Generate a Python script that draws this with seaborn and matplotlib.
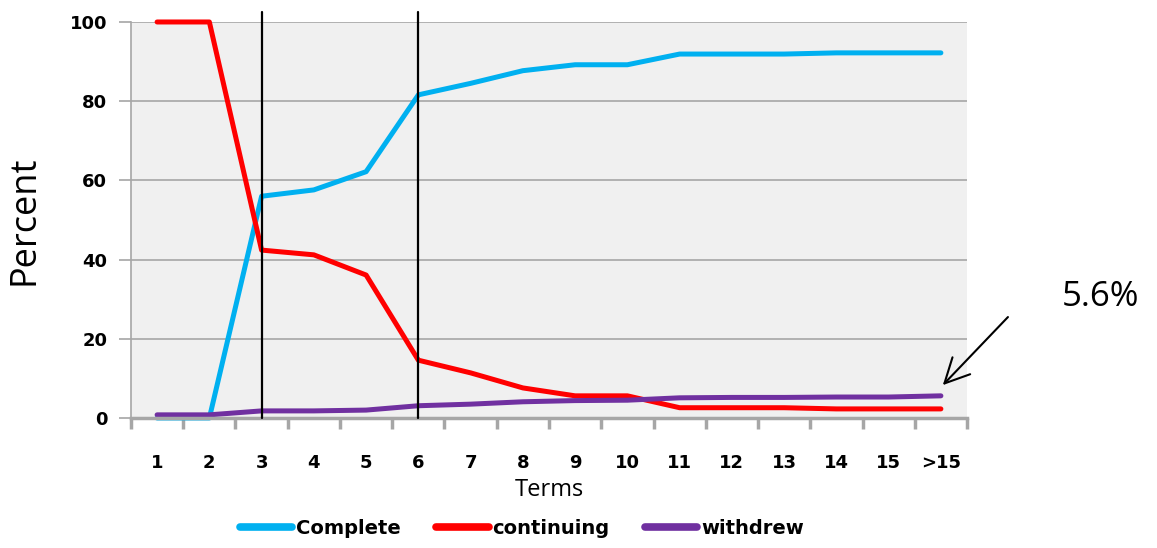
import matplotlib
matplotlib.use("Agg")
import matplotlib.pyplot as plt
import seaborn as sns
import pandas as pd

terms = ["1", "2", "3", "4", "5", "6", "7", "8", "9", "10", "11", "12", "13", "14", "15", ">15"]
complete = [0, 0, 56, 57.6, 62.2, 81.6, 84.5, 87.7, 89.2, 89.2, 91.9, 91.9, 91.9, 92.2, 92.2, 92.2]
continuing = [100, 100, 42.4, 41.2, 36.1, 14.6, 11.4, 7.6, 5.6, 5.6, 2.6, 2.6, 2.6, 2.3, 2.3, 2.3]
withdrew = [0.8, 0.8, 1.8, 1.8, 2.0, 3.1, 3.5, 4.1, 4.4, 4.5, 5.1, 5.2, 5.2, 5.3, 5.3, 5.6]
cut_terms = ["3", "6"]
series_colors = {"Complete": "#00B0F0", "continuing": "#FF0000", "withdrew": "#7030A0"}

df = pd.concat([
    pd.DataFrame({"Terms": terms, "Percent": complete, "status": "Complete"}),
    pd.DataFrame({"Terms": terms, "Percent": continuing, "status": "continuing"}),
    pd.DataFrame({"Terms": terms, "Percent": withdrew, "status": "withdrew"}),
])
df["pos"] = df["Terms"].map({t: i for i, t in enumerate(terms)})

sns.set_style("white")
plt.rcParams["font.family"] = ["DejaVu Sans"]
plt.rcParams["text.color"] = "black"
plt.rcParams["xtick.color"] = "black"
plt.rcParams["ytick.color"] = "black"
plt.rcParams["axes.labelcolor"] = "black"

fig = plt.figure(figsize=(11.57, 5.48), dpi=100)
ax = fig.add_axes([0.1132, 0.2372, 0.7226, 0.7227])
ax.set_facecolor("#F0F0F0")

sns.lineplot(data=df, x="pos", y="Percent", hue="status", palette=series_colors,
             linewidth=3.6, ax=ax, legend=True)
for ln in ax.get_lines():
    ln.set_clip_on(False)
    ln.set_solid_capstyle("round")

for t in cut_terms:
    ax.axvline(terms.index(t), ymin=0, ymax=1.025, color="black", lw=1.6, clip_on=False, zorder=5)

ax.set_xlim(-0.5, len(terms) - 0.5)
ax.set_ylim(0, 100)
ax.set_yticks(range(0, 101, 20))
ax.set_xticks(range(len(terms)))
ax.set_xticklabels(terms)
ax.set_xticks([i - 0.5 for i in range(len(terms) + 1)], minor=True)
ax.grid(axis="y", color="#A6A6A6", lw=1.2)
ax.grid(axis="x", visible=False)
ax.set_axisbelow(True)

for side in ["top", "right"]:
    ax.spines[side].set_visible(False)
ax.spines["left"].set_color("#A6A6A6")
ax.spines["left"].set_linewidth(1.2)
ax.spines["bottom"].set_color("#A6A6A6")
ax.spines["bottom"].set_linewidth(2.5)

ax.tick_params(which="both", bottom=True, left=True)
ax.tick_params(axis="x", which="major", length=0, pad=26, labelsize=13, labelcolor="black")
ax.tick_params(axis="x", which="minor", length=8, width=2.5, color="#A6A6A6", direction="out")
ax.tick_params(axis="y", length=9, width=1.2, color="#A6A6A6", pad=8, labelsize=13, labelcolor="black")
for lab in ax.get_xticklabels() + ax.get_yticklabels():
    lab.set_fontweight("bold")

ax.set_xlabel("Terms", fontsize=17, family="Open Sans", labelpad=4)
ax.set_ylabel("Percent", fontsize=26, family="Open Sans", labelpad=20)

handles, labels = ax.get_legend_handles_labels()
ax.get_legend().remove()
for h in handles:
    h.set_linewidth(5.5)
fig.legend(handles, labels, loc="center", bbox_to_anchor=(0.451, 0.036), ncol=3,
           frameon=False, handlelength=2.7, handletextpad=0.2, columnspacing=1.8,
           prop={"weight": "bold", "size": 14})

ax.annotate("", xy=(len(terms) - 1, 7.8), xytext=(16.32, 26),
            arrowprops=dict(arrowstyle="->, head_length=0.8, head_width=0.4",
                            color="black", lw=1.5, mutation_scale=22),
            annotation_clip=False)
ax.text(18.05, 30.6, "5.6%", fontsize=25, family="Open Sans", ha="center", va="center")

fig.savefig("out.png", dpi=100)
